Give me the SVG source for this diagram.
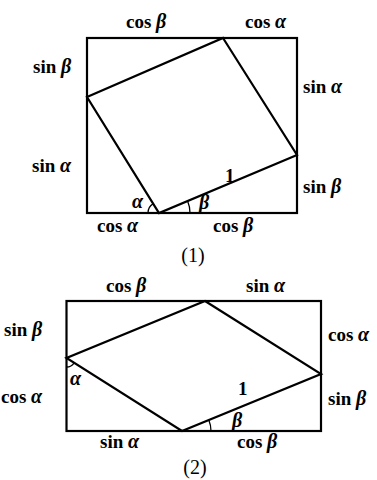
<svg xmlns="http://www.w3.org/2000/svg" width="377" height="480" viewBox="0 0 377 480">
<style>
.ln{fill:none;stroke:#000;stroke-width:2.2;stroke-linejoin:miter}
.arc{fill:none;stroke:#000;stroke-width:1.3}
.t{font-family:"Liberation Serif","Times New Roman",serif;font-size:19px;font-weight:bold;fill:#000}
.g{font-style:italic;font-size:20px}
.cap{font-family:"Liberation Serif","Times New Roman",serif;font-size:20px;fill:#000}
</style>
<rect width="377" height="480" fill="#fff"/>
<g id="fig1">
  <g id="fig1-rect"><rect class="ln" x="87" y="38" width="210" height="175"/></g>
  <g id="fig1-quad"><polygon class="ln" points="223,38 297,155 159,213 87,97"/></g>
  <g id="fig1-arcs">
    <path class="arc" d="M148,213 A11,11 0 0 1 153.2,203.6"/>
    <path class="arc" d="M190,213 A31,31 0 0 0 187.6,201"/>
  </g>
  <g id="fig1-labels">
    <text class="t" x="126" y="28">cos <tspan class="g">β</tspan></text>
    <text class="t" x="245" y="28">cos <tspan class="g">α</tspan></text>
    <text class="t" x="33" y="73">sin <tspan class="g">β</tspan></text>
    <text class="t" x="303" y="93">sin <tspan class="g">α</tspan></text>
    <text class="t" x="32" y="172">sin <tspan class="g">α</tspan></text>
    <text class="t" x="303" y="193">sin <tspan class="g">β</tspan></text>
    <text class="t" x="97" y="232">cos <tspan class="g">α</tspan></text>
    <text class="t" x="213" y="232">cos <tspan class="g">β</tspan></text>
    <text class="t" x="225" y="182" font-weight="normal">1</text>
    <text class="t g" x="132" y="208">α</text>
    <text class="t g" x="199" y="209">β</text>
    <text class="cap" x="193" y="262" text-anchor="middle">(1)</text>
  </g>
</g>
<g id="fig2">
  <g id="fig2-rect"><rect class="ln" x="66.5" y="301" width="254.5" height="130"/></g>
  <g id="fig2-quad"><polygon class="ln" points="205,301 321,374 182,431 66.5,358"/></g>
  <g id="fig2-arcs">
    <path class="arc" d="M66.5,367 A9,9 0 0 0 74.1,362.8"/>
    <path class="arc" d="M211,431 A29,29 0 0 0 208.8,420"/>
  </g>
  <g id="fig2-labels">
    <text class="t" x="106" y="292">cos <tspan class="g">β</tspan></text>
    <text class="t" x="246" y="292">sin <tspan class="g">α</tspan></text>
    <text class="t" x="4" y="336">sin <tspan class="g">β</tspan></text>
    <text class="t" x="328" y="341">cos <tspan class="g">α</tspan></text>
    <text class="t" x="1" y="403">cos <tspan class="g">α</tspan></text>
    <text class="t" x="328" y="405">sin <tspan class="g">β</tspan></text>
    <text class="t" x="100" y="448">sin <tspan class="g">α</tspan></text>
    <text class="t" x="237" y="448">cos <tspan class="g">β</tspan></text>
    <text class="t" x="238" y="395" font-weight="normal">1</text>
    <text class="t g" x="70" y="385">α</text>
    <text class="t g" x="232" y="427">β</text>
    <text class="cap" x="195" y="474" text-anchor="middle">(2)</text>
  </g>
</g>
</svg>
